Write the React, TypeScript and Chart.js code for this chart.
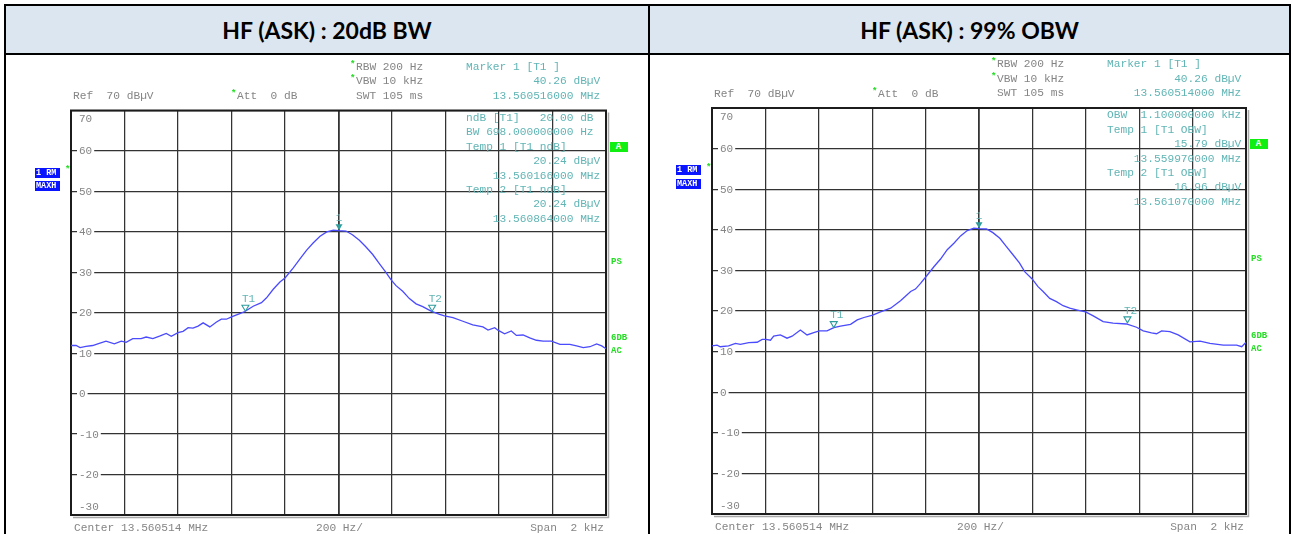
import React, { useEffect, useRef } from "react";
import { Chart, registerables } from "chart.js";

Chart.register(...registerables);

// ---- data (offset from centre frequency 13.560514 MHz, Hz ; level dBµV) ----
const freqBW = [-1000,-981,-966,-944,-919,-900,-869,-838,-812,-794,-769,-738,-719,-694,-669,-644,-625,-600,-581,-562,-544,-525,-506,-481,-456,-438,-419,-400,-369,-350,-319,-288,-269,-244,-219,-200,-169,-144,-119,-94,-69,-44,-19,0,28,52,78,102,128,152,178,196,215,240,265,290,315,346,378,396,428,465,502,540,559,584,596,621,646,665,690,715,740,765,796,828,865,890,915,940,965,984,1000];
const levelBW = [11.9,11.9,11.4,11.7,11.9,12.3,13.0,12.3,13.0,12.7,13.6,13.6,14.0,13.6,14.2,14.9,14.2,15.1,15.4,16.3,16.2,16.7,17.5,16.5,17.7,18.4,18.4,19.0,19.8,20.3,21.6,22.5,23.7,25.8,27.6,28.6,31.1,33.3,35.5,37.3,38.9,40.0,40.4,40.3,40.2,39.3,37.9,36.3,34.4,32.2,29.9,28.2,26.7,25.3,23.5,22.2,21.5,20.4,19.6,19.2,18.8,17.9,17.0,16.5,15.7,16.3,15.7,14.8,15.5,14.4,14.5,13.8,13.2,13.0,13.0,12.2,12.2,11.8,11.4,11.6,12.3,11.8,11.1];

const freqOBW = [-1000,-981,-969,-938,-912,-894,-862,-831,-812,-798,-781,-769,-744,-719,-700,-669,-644,-619,-598,-569,-544,-519,-481,-456,-431,-398,-369,-331,-294,-256,-238,-219,-198,-169,-144,-119,-94,-69,-44,-19,0,28,52,78,102,128,152,171,199,221,240,265,290,315,340,365,399,428,465,502,552,590,615,646,665,684,715,746,790,828,865,915,965,984,1000];
const levelOBW = [11.4,11.6,11.2,11.4,12.0,11.8,12.2,12.3,13.0,13.0,12.8,13.8,14.1,13.3,13.8,15.3,14.1,14.7,15.1,15.1,15.9,16.3,16.7,17.8,18.4,19.0,19.8,20.7,22.5,24.8,25.4,26.8,28.5,30.9,32.8,35.1,36.7,38.5,39.8,40.4,40.3,40.2,39.3,37.9,35.9,33.8,31.8,29.7,27.9,26.0,24.8,23.1,22.3,21.3,20.7,20.3,19.8,18.8,17.4,17.0,16.8,16.0,15.1,14.6,14.4,15.1,14.9,14.1,12.4,12.6,12.0,11.6,11.6,11.2,12.3];

const yTickValues = [70, 60, 50, 40, 30, 20, 10, 0, -10, -20, -30];
const markerNames = ["1", "T1", "T2"];
const markerFreqBW = [2, -348, 350];
const markerLevelBW = [40.26, 20.24, 20.24];
const markerFreqOBW = [0, -544, 556];
const markerLevelOBW = [40.26, 15.79, 16.96];

const titles = ["HF (ASK) : 20dB BW", "HF (ASK) : 99% OBW"];
const infoBW = ["Marker 1 [T1 ]", "          40.26 dBµV", "    13.560516000 MHz"];
const infoOBW = ["Marker 1 [T1 ]", "          40.26 dBµV", "    13.560514000 MHz"];
const readoutBW = ["ndB [T1]   20.00 dB ", "BW 698.000000000 Hz", "Temp 1 [T1 ndB]", "          20.24 dBµV", "    13.560166000 MHz", "Temp 2 [T1 ndB]", "          20.24 dBµV", "    13.560864000 MHz"];
const readoutOBW = ["OBW  1.100000000 kHz", "Temp 1 [T1 OBW]", "          15.79 dBµV", "    13.559970000 MHz", "Temp 2 [T1 OBW]", "          16.96 dBµV", "    13.561070000 MHz"];
const settingLines = ["RBW 200 Hz", "VBW 10 kHz", "SWT 105 ms"];
const refText = "Ref  70 dBµV";
const attText = "Att  0 dB";
const footer = ["Center 13.560514 MHz", "200 Hz/", "Span  2 kHz"];

const MONO = '"Liberation Mono", "DejaVu Sans Mono", monospace';
const GRAY = "#858585";
const TEAL = "#62b5b5";
const GREEN = "#22dd22";

const analyzerPlugin = {
  id: "analyzer",
  beforeDatasetsDraw(chart: any) {
    const { ctx, chartArea: a, scales } = chart;
    const y = scales.y;
    ctx.save();
    ctx.strokeStyle = "#a8a8a8";
    ctx.lineWidth = 1.5;
    ctx.beginPath();
    ctx.moveTo(a.left + 2, a.bottom + 2.5);
    ctx.lineTo(a.right + 2.5, a.bottom + 2.5);
    ctx.lineTo(a.right + 2.5, a.top + 2);
    ctx.stroke();
    ctx.strokeStyle = "#1c1c1c";
    ctx.lineWidth = 2;
    ctx.strokeRect(a.left, a.top, a.right - a.left, a.bottom - a.top);
    ctx.font = "11px " + MONO;
    ctx.textBaseline = "middle";
    ctx.textAlign = "left";
    for (const v of yTickValues) {
      let py = y.getPixelForValue(v);
      const label = String(v);
      const w = ctx.measureText(label).width;
      const x0 = a.left + 8;
      if (v === 70) py += 8.5;
      else if (v === -30) py -= 8;
      else {
        ctx.fillStyle = "#ffffff";
        ctx.fillRect(x0 - 2, py - 2.5, w + 4, 5);
      }
      ctx.fillStyle = GRAY;
      ctx.fillText(label, x0, py + 0.5);
    }
    ctx.restore();
  },
  afterDatasetsDraw(chart: any, _args: any, opts: any) {
    const { ctx, scales } = chart;
    const xs = scales.x, ys = scales.y;
    ctx.save();
    ctx.font = "11px " + MONO;
    ctx.textBaseline = "middle";
    (opts.freq || []).forEach((f: number, i: number) => {
      const px = xs.getPixelForValue(f);
      const py = ys.getPixelForValue(opts.level[i]);
      ctx.beginPath();
      ctx.moveTo(px - 3.5, py - 6.5);
      ctx.lineTo(px + 3.5, py - 6.5);
      ctx.lineTo(px, py - 0.5);
      ctx.closePath();
      ctx.lineWidth = 1.1;
      ctx.strokeStyle = "#2f9c9c";
      ctx.fillStyle = "#2f9c9c";
      if (i === 0) ctx.fill();
      else ctx.stroke();
      ctx.fillStyle = TEAL;
      const name = opts.names[i];
      if (name.length === 1) {
        ctx.textAlign = "center";
        ctx.fillText(name, px, py - 12.5);
      } else {
        ctx.textAlign = "left";
        ctx.fillText(name, px - 3.5, py - 12.5);
      }
    });
    ctx.restore();
  },
};

type Box = { left: number; top: number; right: number; bottom: number };

function Spectrum(props: { canvas: Box; plot: Box; freq: number[]; level: number[]; mFreq: number[]; mLevel: number[] }) {
  const ref = useRef<HTMLCanvasElement>(null);
  const { canvas, plot } = props;
  const w = canvas.right - canvas.left;
  const h = canvas.bottom - canvas.top;
  useEffect(() => {
    const gridW = (c: any) => (c.tick && c.tick.value === 0 ? 1.8 : 1.25);
    const chart = new Chart(ref.current as HTMLCanvasElement, {
      type: "line",
      data: {
        datasets: [
          {
            data: props.freq.map((f, i) => ({ x: f, y: props.level[i] })),
            borderColor: "#4a4aff",
            borderWidth: 1.3,
            pointRadius: 0,
            tension: 0,
            fill: false,
          },
        ],
      },
      options: {
        animation: false,
        responsive: false,
        events: [],
        layout: {
          padding: {
            left: plot.left - canvas.left,
            top: plot.top - canvas.top,
            right: canvas.right - plot.right,
            bottom: canvas.bottom - plot.bottom,
          },
        },
        plugins: {
          legend: { display: false },
          tooltip: { enabled: false },
          analyzer: { names: markerNames, freq: props.mFreq, level: props.mLevel },
        } as any,
        scales: {
          x: {
            type: "linear",
            min: -1000,
            max: 1000,
            ticks: { display: false, stepSize: 200 },
            grid: { color: "#333333", lineWidth: gridW, drawTicks: false },
            border: { display: false },
            afterFit: (s: any) => { s.height = 0; },
          },
          y: {
            type: "linear",
            min: -30,
            max: 70,
            ticks: { display: false, stepSize: 10 },
            grid: { color: "#333333", lineWidth: 1.25, drawTicks: false },
            border: { display: false },
            afterFit: (s: any) => { s.width = 0; },
          },
        },
      },
      plugins: [analyzerPlugin as any],
    });
    return () => chart.destroy();
  }, []);
  return (
    <canvas
      ref={ref}
      width={w}
      height={h}
      style={{ position: "absolute", left: canvas.left, top: canvas.top, width: w, height: h }}
    />
  );
}

const txt = (x: number, y: number, s: string, color: string, extra: any = {}) => (
  <span
    style={{
      position: "absolute",
      left: x,
      top: y - 6.5,
      font: "11.2px " + MONO,
      lineHeight: "13px",
      color,
      whiteSpace: "pre",
      ...extra,
    }}
  >
    {s}
  </span>
);

const txtR = (xr: number, y: number, s: string, color: string) => (
  <span
    style={{
      position: "absolute",
      right: 1293 - xr,
      top: y - 6.5,
      font: "11.2px " + MONO,
      lineHeight: "13px",
      color,
      whiteSpace: "pre",
    }}
  >
    {s}
  </span>
);

function Overlay(props: { plot: Box; info: string[]; readout: string[] }) {
  const { left: L, top: T, right: R, bottom: B } = props.plot;
  const els: any[] = [];
  const star = (x: number, y: number) =>
    txt(x, y - 2, "*", GREEN, { fontSize: "9px", fontWeight: "bold" });
  els.push(txt(L + 2, T - 14, refText, GRAY));
  els.push(star(L + 160, T - 14));
  els.push(txt(L + 166, T - 14, attText, GRAY));
  settingLines.forEach((s, i) => {
    if (i < 2) els.push(star(L + 279, T - 43.5 + i * 14.5));
    els.push(txt(L + 285, T - 43.5 + i * 14.5, s, GRAY));
  });
  props.info.forEach((s, i) => els.push(txt(L + 395, T - 43.5 + i * 14.5, s, TEAL)));
  props.readout.forEach((s, i) => els.push(txt(L + 395, T + 7.8 + i * 14.43, s, TEAL)));
  const badge = (y: number, s: string) => (
    <div
      style={{
        position: "absolute",
        left: L - 36,
        top: T + y,
        width: 25,
        height: 10,
        background: "#0a14ff",
        color: "#ffffff",
        font: "bold 8.5px " + MONO,
        lineHeight: "10px",
        textAlign: "left",
        paddingLeft: 1,
        boxSizing: "border-box",
        whiteSpace: "pre",
        overflow: "hidden",
      }}
    >
      {s}
    </div>
  );
  els.push(badge(57, "1 RM"));
  els.push(badge(70.5, "MAXH"));
  els.push(star(L - 6, T + 62));
  els.push(
    <div
      style={{
        position: "absolute",
        left: R + 3.5,
        top: T + 31,
        width: 18,
        height: 10,
        background: "#11ee11",
        color: "#ffffff",
        font: "bold 9px " + MONO,
        lineHeight: "10px",
        textAlign: "center",
      }}
    >
      A
    </div>
  );
  els.push(txt(R + 5, T + 151.5, "PS", GREEN, { fontSize: "9px", fontWeight: "bold" }));
  els.push(txt(R + 5, T + 228, "6DB", GREEN, { fontSize: "9px", fontWeight: "bold" }));
  els.push(txt(R + 5, T + 241, "AC", GREEN, { fontSize: "9px", fontWeight: "bold" }));
  els.push(txt(L + 3, B + 13, footer[0], GRAY));
  els.push(txt(L + 245, B + 13, footer[1], GRAY));
  els.push(txtR(R - 2, B + 13, footer[2], GRAY));
  return <>{els.map((e, i) => React.cloneElement(e, { key: i }))}</>;
}

const plotBW: Box = { left: 71, top: 110.5, right: 606, bottom: 515 };
const plotOBW: Box = { left: 712, top: 108, right: 1246, bottom: 514 };

export default function App() {
  const line = (l: number, t: number, w: number, h: number) => (
    <div style={{ position: "absolute", left: l, top: t, width: w, height: h, background: "#000" }} />
  );
  const header = (l: number, w: number, s: string) => (
    <div
      style={{
        position: "absolute",
        left: l,
        top: 6,
        width: w,
        height: 47,
        background: "#dce6f1",
        display: "flex",
        alignItems: "center",
        justifyContent: "center",
        font: "bold 23px Lato, 'Open Sans', sans-serif",
        color: "#000",
        paddingTop: 1,
        boxSizing: "border-box",
      }}
    >
      {s}
    </div>
  );
  return (
    <div style={{ position: "absolute", left: 0, top: 0, width: 1293, height: 534, background: "#fff", overflow: "hidden" }}>
      {header(6, 642, titles[0])}
      {header(650, 639, titles[1])}
      <Spectrum canvas={{ left: 8, top: 56, right: 646, bottom: 534 }} plot={plotBW} freq={freqBW} level={levelBW} mFreq={markerFreqBW} mLevel={markerLevelBW} />
      <Spectrum canvas={{ left: 652, top: 56, right: 1288, bottom: 534 }} plot={plotOBW} freq={freqOBW} level={levelOBW} mFreq={markerFreqOBW} mLevel={markerLevelOBW} />
      <Overlay plot={plotBW} info={infoBW} readout={readoutBW} />
      <Overlay plot={plotOBW} info={infoOBW} readout={readoutOBW} />
      {line(4, 4, 1287, 2)}
      {line(4, 4, 2, 530)}
      {line(1289, 4, 2, 530)}
      {line(648, 4, 2, 530)}
      {line(4, 53, 1287, 2)}
    </div>
  );
}
